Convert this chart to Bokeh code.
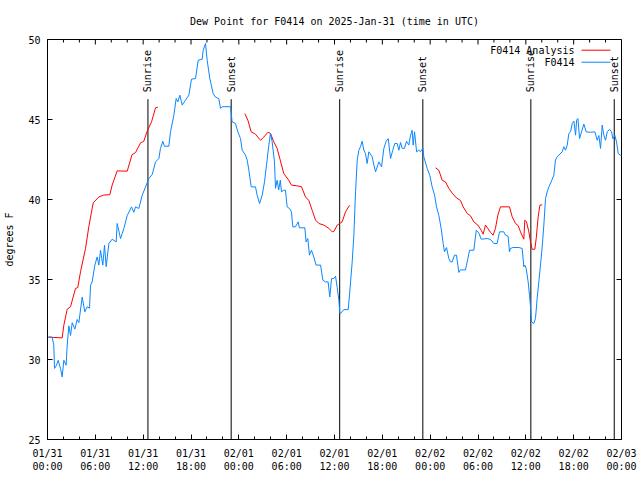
import math
from bokeh.plotting import figure
from bokeh.models import Range1d, FixedTicker, ColumnDataSource
from bokeh.core.properties import value
from bokeh.embed import file_html
from bokeh.resources import INLINE

nan = float("nan")

title_text = "Dew Point for F0414 on 2025-Jan-31 (time in UTC)"
y_label = "degrees F"

# x axis: hours since 2025-01-31 00:00 UTC
x_ticks = [0, 6, 12, 18, 24, 30, 36, 42, 48, 54, 60, 66, 72]
x_tick_labels = ["01/31\n00:00", "01/31\n06:00", "01/31\n12:00", "01/31\n18:00",
                 "02/01\n00:00", "02/01\n06:00", "02/01\n12:00", "02/01\n18:00",
                 "02/02\n00:00", "02/02\n06:00", "02/02\n12:00", "02/02\n18:00",
                 "02/03\n00:00"]
x_minor_ticks = [h for h in range(0, 73, 2) if h % 6 != 0]
y_ticks = [25, 30, 35, 40, 45, 50]

# F0414 observations
obs_hours = [0.1, 0.58, 0.79, 0.88, 1.13, 1.34, 1.63, 1.84, 2.05, 2.34, 2.47, 2.68, 2.89, 3.1, 3.43,
             3.72, 3.93, 4.35, 4.68, 4.98, 5.27, 5.4, 5.6, 5.94, 6.23, 6.44, 6.65, 6.94, 7.15, 7.36,
             7.7, 8.11, 8.61, 8.74, 9.16, 9.58, 10.0, 10.54, 10.83, 11.04, 11.46, 11.88, 12.3, 12.71,
             13.13, 13.55, 13.97, 14.17, 14.47, 14.67, 15.22, 15.43, 15.85, 16.14, 16.35, 16.6, 16.9,
             17.3, 17.73, 18.06, 18.57, 18.9, 19.4, 19.53, 19.82, 20.03, 20.36, 20.5, 20.78, 21.07,
             21.49, 21.7, 21.91, 22.96, 23.16, 23.58, 23.87, 24.21, 24.42, 24.84, 25.05, 25.26, 25.55,
             26.09, 26.3, 26.6, 26.93, 27.22, 27.47, 27.76, 27.97, 28.18, 28.47, 28.6, 28.8, 29.0,
             29.2, 29.35, 29.64, 29.85, 30.06, 30.35, 30.6, 30.77, 31.1, 31.44, 31.6, 32.28, 32.44,
             32.65, 32.86, 33.11, 33.4, 33.69, 34.25, 34.54, 34.87, 35.2, 35.41, 35.63, 35.92, 36.13,
             36.34, 36.55, 36.67, 36.96, 37.17, 37.72, 37.88, 38.22, 38.43, 38.64, 38.85, 39.05,
             39.26, 39.47, 39.68, 39.89, 40.1, 40.31, 40.73, 40.94, 41.15, 41.57, 41.9, 42.19, 42.48,
             42.74, 43.03, 43.31, 43.56, 43.86, 44.07, 44.28, 44.49, 44.78, 45.03, 45.32, 45.54,
             45.74, 45.87, 46.04, 46.3, 46.58, 46.79, 47.08, 47.2, 47.63, 47.96, 48.25, 48.55, 48.8,
             49.09, 49.38, 49.63, 49.8, 50.05, 50.34, 50.55, 50.76, 51.05, 51.3, 51.6, 51.8, 52.43,
             52.73, 52.94, 53.48, 53.78, 54.11, 54.4, 55.15, 55.57, 55.99, 56.4, 56.7, 57.24, 57.45,
             57.78, 57.95, 58.08, 58.37, 59.12, 59.54, 59.75, 59.87, 60.04, 60.29, 60.46, 60.59,
             60.71, 61.0, 61.21, 61.42, 61.63, 61.84, 62.05, 62.26, 62.47, 62.68, 62.89, 63.18,
             63.51, 63.72, 63.93, 64.56, 64.77, 64.98, 65.19, 65.4, 65.61, 65.82, 66.03, 66.24,
             66.37, 66.53, 66.74, 66.99, 67.28, 67.57, 68.12, 68.66, 68.95, 69.16, 69.37, 69.58,
             69.79, 70.0, 70.21, 70.5, 70.75, 70.92, 71.17, 71.38, 71.59, 71.88, 72.0]
obs_dewpt = [31.4, 31.4, 30.9, 29.44, 29.64, 29.95, 29.44, 28.91, 29.95, 29.64, 30.9, 32.1, 31.5, 32.3,
             31.9, 32.5, 32.3, 33.9, 32.98, 33.3, 33.2, 34.64, 34.85, 35.9, 36.41, 35.9, 36.83, 35.9,
             37.14, 35.8, 37.25, 37.52, 37.35, 38.5, 37.56, 38.19, 39.0, 39.54, 39.2, 39.54, 39.44,
             40.27, 40.79, 41.31, 41.56, 42.35, 42.56, 43.19, 43.64, 43.33, 43.33, 44.23, 45.27,
             46.31, 46.1, 46.52, 45.9, 46.2, 46.52, 47.52, 47.56, 48.7, 48.77, 49.33, 49.75, 48.7,
             47.56, 47.25, 46.62, 46.4, 46.3, 45.69, 45.8, 45.8, 44.85, 44.75, 44.23, 43.81, 43.08,
             42.77, 42.46, 41.83, 40.79, 40.79, 40.27, 39.75, 40.27, 41.1, 42.14, 43.39, 44.13, 43.6,
             42.35, 40.7, 41.2, 40.6, 41.2, 40.48, 40.58, 40.58, 39.54, 39.44, 39.23, 38.29, 38.29,
             38.6, 38.23, 38.23, 37.35, 37.56, 36.52, 36.83, 36.41, 35.9, 35.9, 34.96, 34.85, 34.85,
             33.91, 35.06, 35.06, 35.2, 34.5, 33.7, 32.87, 32.98, 33.12, 33.12, 34.02, 36.1, 37.77,
             40.48, 42.46, 43.08, 43.3, 43.64, 43.08, 42.87, 42.25, 42.98, 42.67, 42.15, 41.73,
             42.35, 42.04, 43.19, 43.64, 43.8, 42.56, 43.08, 43.5, 43.5, 43.08, 43.56, 43.2, 43.2,
             43.64, 43.4, 44.02, 44.33, 43.4, 44.23, 42.98, 43.08, 42.98, 43.2, 42.67, 41.94, 41.5,
             40.79, 40.27, 39.54, 39.0, 38.19, 37.25, 36.73, 37.0, 36.31, 36.1, 36.1, 36.52, 36.52,
             35.44, 35.6, 35.6, 36.31, 36.83, 36.83, 38.08, 37.9, 37.52, 37.56, 37.5, 37.25, 37.25,
             37.98, 37.98, 37.77, 37.7, 36.73, 36.94, 37.0, 37.0, 36.94, 35.79, 35.9, 35.7, 34.85,
             34.02, 33.29, 32.35, 32.25, 32.56, 33.81, 34.85, 35.9, 37.04, 38.4, 40.06, 40.48, 40.79,
             41.1, 41.52, 42.46, 42.67, 42.98, 43.3, 43.08, 43.4, 44.13, 44.23, 44.75, 44.9, 44.02,
             44.96, 45.06, 43.81, 44.23, 44.71, 44.23, 44.2, 44.23, 43.7, 44.0, 43.19, 44.65, 44.0,
             43.7, 44.23, 44.38, 44.23, 43.8, 44.0, 43.6, 42.87, 42.77, 42.77]

# F0414 Analysis (nan = gap)
ana_hours = [0.1, 1.84, 2.05, 2.47, 2.89, 3.51, 3.8, 4.14, 4.77, 5.18, 5.73, 6.44, 7.06, 7.82, 8.11,
             8.74, 10.0, 10.6, 11.04, 11.67, 12.08, 12.5, 13.05, 13.55, 13.84, nan,
             24.75, 25.13, 25.55, 26.09, 26.72, 27.13, 27.64, 27.97, 28.39, 28.8, 29.14, 29.64,
             30.27, 30.6, 31.32, 31.86, 32.36, 32.78, 33.2, 33.62, 34.04, 34.66, 35.29, 35.71,
             35.92, 36.34, 36.96, 37.38, 37.88, nan,
             48.67, 49.09, 49.51, 49.92, 50.34, 50.76, 51.3, 51.8, 52.14, 52.65, 53.06, 53.48,
             53.98, 54.4, 54.65, 54.94, 55.23, 55.57, 55.9, 56.19, 56.49, 56.82, 57.95, 58.29,
             58.71, 59.04, 59.33, 59.75, 59.87, 60.08, 60.38, 60.59, 60.79, 61.13, 61.3, 61.55,
             61.76, 62.05]
ana_dewpt = [31.4, 31.35, 32.14, 33.14, 33.3, 34.44, 34.5, 35.48, 36.94, 38.29, 39.79, 40.16, 40.28,
             40.3, 40.9, 41.79, 41.77, 42.8, 42.93, 43.54, 43.64, 44.27, 44.85, 45.73, 45.77, nan,
             45.37, 44.96, 44.23, 44.08, 43.7, 43.9, 44.2, 44.13, 43.6, 43.2, 42.56, 41.62, 41.2,
             40.9, 40.85, 40.8, 40.16, 39.94, 39.33, 38.71, 38.5, 38.4, 38.2, 37.98, 38.0, 38.4,
             38.6, 39.23, 39.64, nan,
             41.98, 41.83, 41.2, 41.1, 40.7, 40.4, 40.1, 39.94, 39.54, 39.12, 38.98, 38.6, 38.4,
             38.08, 37.83, 38.4, 38.2, 37.94, 37.77, 38.2, 39.02, 39.54, 39.54, 38.92, 38.5, 38.37,
             37.98, 37.52, 38.71, 38.6, 37.98, 37.35, 36.89, 36.89, 37.56, 38.92, 39.64, 39.67]

sun_hours = [12.6, 23.04, 36.65, 47.08, 60.63, 71.09]
sun_labels = ["Sunrise", "Sunset", "Sunrise", "Sunset", "Sunrise", "Sunset"]

series_names = ["F0414 Analysis", "F0414"]

# ---------------- styling ----------------
FONT = "DejaVu Sans Mono"
FS = "10px"
RED = "#ff0000"
BLUE = "#0a86ff"
X0, X1, Y0, Y1 = 0, 72, 25, 50
FW, FH = 574, 400  # frame size in px
MAJ, MIN = 5, 3    # tick lengths in px


def fx(px):  # frame px from left -> data x
    return X0 + (X1 - X0) * px / FW


def fy(py):  # frame px from top -> data y
    return Y1 - (Y1 - Y0) * py / FH


DX = (X1 - X0) / FW  # data units per px horizontally
DY = (Y1 - Y0) / FH  # data units per px vertically

p = figure(width=640, height=480, x_range=Range1d(X0, X1), y_range=Range1d(Y0, Y1),
           output_backend="svg", toolbar_location=None,
           min_border_left=47, min_border_right=19, min_border_top=39, min_border_bottom=41)
p.background_fill_color = "white"
p.border_fill_color = "white"
p.outline_line_color = "black"
p.outline_line_width = 1
p.grid.visible = False

p.title.text = title_text
p.title.text_font = FONT
p.title.text_font_size = FS
p.title.text_font_style = "normal"
p.title.text_color = "black"
p.title.align = "center"
p.title.standoff = 25


def style_axis(ax):
    ax.axis_line_color = "black"
    ax.major_tick_line_color = "black"
    ax.minor_tick_line_color = "black"
    ax.major_tick_in = MAJ
    ax.major_tick_out = 0
    ax.minor_tick_in = MIN
    ax.minor_tick_out = 0
    ax.major_label_text_font = FONT
    ax.major_label_text_font_size = FS
    ax.major_label_text_color = "black"


p.xaxis.ticker = FixedTicker(ticks=x_ticks, minor_ticks=x_minor_ticks)
p.xaxis.major_label_overrides = {t: lab for t, lab in zip(x_ticks, x_tick_labels)}
style_axis(p.xaxis[0])
p.xaxis.major_label_standoff = 8

p.yaxis.ticker = FixedTicker(ticks=y_ticks, minor_ticks=[])
style_axis(p.yaxis[0])
p.yaxis.major_label_standoff = 7
p.yaxis.axis_label = y_label
p.yaxis.axis_label_text_font = FONT
p.yaxis.axis_label_text_font_size = FS
p.yaxis.axis_label_text_font_style = "normal"
p.yaxis.axis_label_text_color = "black"
p.yaxis.axis_label_standoff = 10

# mirrored tick marks on the top and right edges (no labels)
p.segment(x0=x_ticks, y0=[Y1] * len(x_ticks), x1=x_ticks, y1=[Y1 - MAJ * DY] * len(x_ticks),
          line_color="black", line_width=1)
p.segment(x0=x_minor_ticks, y0=[Y1] * len(x_minor_ticks), x1=x_minor_ticks,
          y1=[Y1 - MIN * DY] * len(x_minor_ticks), line_color="black", line_width=1)
p.segment(x0=[X1] * len(y_ticks), y0=y_ticks, x1=[X1 - MAJ * DX] * len(y_ticks), y1=y_ticks,
          line_color="black", line_width=1)

# sunrise / sunset markers
sun_src = ColumnDataSource(dict(x=sun_hours, lab=sun_labels))
p.segment(x0="x", y0=Y0, x1="x", y1=fy(59.7), source=sun_src, line_color="black", line_width=1)
p.text(x="x", y=fy(52.7), text="lab", source=sun_src, angle=math.pi / 2,
       text_align="left", text_baseline="middle", text_font=value(FONT),
       text_font_size=FS, text_color="black")

# data
p.line(ana_hours, ana_dewpt, line_color=RED, line_width=1)
p.line(obs_hours, obs_dewpt, line_color=BLUE, line_width=1)

# key (top right, gnuplot style: text then sample line)
key_y = [fy(10.7), fy(22.7)]
p.text(x=[fx(527)] * 2, y=key_y, text=series_names, text_align="right",
       text_baseline="middle", text_font=value(FONT), text_font_size=FS, text_color="black")
p.segment(x0=[fx(534)] * 2, y0=key_y, x1=[fx(563)] * 2, y1=key_y,
          line_color=[RED, BLUE], line_width=1)

open("out.html", "w").write(file_html(p, INLINE))
